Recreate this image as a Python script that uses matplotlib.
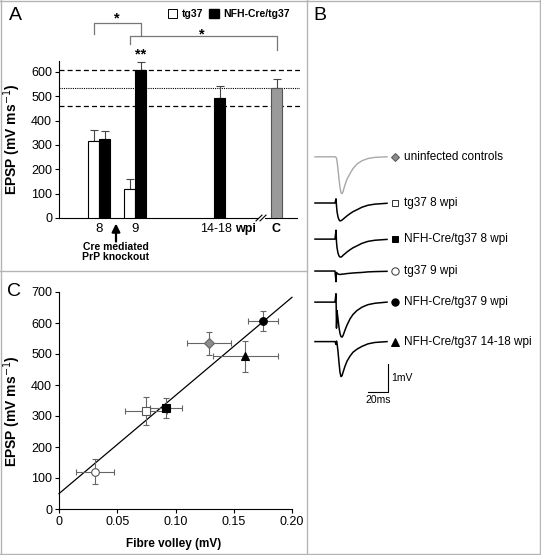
import matplotlib
matplotlib.use("Agg")
import matplotlib.pyplot as plt
import numpy as np
from matplotlib.lines import Line2D
from matplotlib.patches import Patch

plt.rcParams["font.family"] = ["Liberation Sans", "DejaVu Sans"]

# ---- data ----
# panel A: EPSP slope (mV ms-1), mean and upper SEM
tg37_mean = [315, 120]          # 8 wpi, 9 wpi
tg37_err = [45, 40]
nfh_mean = [325, 608, 493]      # 8 wpi, 9 wpi, 14-18 wpi
nfh_err = [33, 32, 50]
ctrl_mean = 534
ctrl_err = 37
ctrl_band = 74                  # dashed lines: control mean +/- band

# panel C: fibre volley vs EPSP
fv_names = ["tg37 9", "tg37 8", "NFH 8", "control", "NFH 14-18", "NFH 9"]
fv_x = [0.031, 0.075, 0.092, 0.129, 0.160, 0.175]
fv_xerr = [0.016, 0.018, 0.0135, 0.019, 0.028, 0.013]
fv_y = [120, 315, 325, 534, 493, 607]
fv_yerr = [40, 45, 33, 38, 50, 33]

# panel B: example field potential traces (ms, mV relative to baseline)
trace_t = [0, 20, 21, 21.5, 22, 23, 24, 25, 26, 27, 28, 30, 32, 35, 38, 42, 47, 53, 60, 72]
trace_ctrl = [0, 0, -0.02, -0.05, -0.15, -0.45, -0.8, -1.1, -1.28, -1.32, -1.25, -1.0, -0.8,
              -0.6, -0.42, -0.26, -0.14, -0.06, -0.02, 0]
trace_tg37_8 = [0, 0, 0.15, -0.1, -0.3, -0.5, -0.6, -0.64, -0.63, -0.61, -0.58, -0.52, -0.46,
                -0.38, -0.31, -0.24, -0.15, -0.08, -0.04, -0.01]
trace_nfh_8 = [0, 0, 0.32, -0.1, -0.3, -0.5, -0.6, -0.64, -0.64, -0.62, -0.58, -0.52, -0.46,
               -0.38, -0.31, -0.24, -0.15, -0.08, -0.04, -0.01]
trace_tg37_9 = [0, 0, -0.38, -0.05, -0.08, -0.1, -0.12, -0.12, -0.12, -0.11, -0.11, -0.1, -0.09,
                -0.08, -0.07, -0.06, -0.05, -0.03, -0.02, -0.01]
trace_nfh_9 = [0, 0, 0.3, -0.93, -0.3, -0.6, -0.9, -1.12, -1.23, -1.25, -1.2, -1.0, -0.82,
               -0.6, -0.44, -0.3, -0.18, -0.09, -0.04, 0]
trace_nfh_14 = [0, 0, -0.1, 0.02, -0.05, -0.35, -0.75, -1.1, -1.25, -1.22, -1.1, -0.88, -0.7,
                -0.52, -0.38, -0.27, -0.17, -0.08, -0.03, 0]
trace_labels = ["uninfected controls", "tg37 8 wpi", "NFH-Cre/tg37 8 wpi", "tg37 9 wpi",
                "NFH-Cre/tg37 9 wpi", "NFH-Cre/tg37 14-18 wpi"]
scale_ms = 20
scale_mv = 1

# ---- layout ----
W, H = 541, 555
fig = plt.figure(figsize=(W / 100, H / 100), dpi=100)


def box(l, t, r, b):
    return [l / W, 1 - b / H, (r - l) / W, (b - t) / H]


gray_line = "#b4b4b4"
for xs, ys in [((0, W), (1, 1)), ((1, 1), (0, H)), ((0, W), (554, 554)), ((540, 540), (0, H)),
               ((0, 307), (271, 271)), ((307, 307), (0, H))]:
    fig.add_artist(Line2D([x / W for x in xs], [1 - y / H for y in ys], color=gray_line, lw=1))

fig.text(9 / W, 1 - 16 / H, "A", fontsize=14, va="center")
fig.text(313 / W, 1 - 16 / H, "B", fontsize=14, va="center")
fig.text(7 / W, 1 - 292 / H, "C", fontsize=14, va="center")

tick_fs = 9

# ---- panel A ----
ax = fig.add_axes(box(59, 61, 300, 218))
bw = 10.5
x_tg37 = [34.5, 70.5]
x_nfh = [45.5, 81.5, 160.5]
x_ctrl = 217.5
ax.bar(x_tg37, tg37_mean, bw, color="white", edgecolor="black", lw=0.8, zorder=3)
ax.bar(x_nfh, nfh_mean, bw, color="black", edgecolor="black", lw=0.8, zorder=3)
ax.bar([x_ctrl], [ctrl_mean], bw, color="#9a9a9a", edgecolor="#555555", lw=0.8, zorder=3)
ekw = dict(fmt="none", ecolor="#444444", elinewidth=0.8, capsize=3, capthick=0.8, zorder=2)
ax.errorbar(x_tg37, tg37_mean, yerr=[np.zeros(2), tg37_err], **ekw)
ax.errorbar(x_nfh, nfh_mean, yerr=[np.zeros(3), nfh_err], **ekw)
ax.errorbar([x_ctrl], [ctrl_mean], yerr=[[0], [ctrl_err]], **ekw)
ax.axhline(ctrl_mean + ctrl_band, color="black", lw=0.9, ls=(0, (4, 2.5)), zorder=1)
ax.axhline(ctrl_mean - ctrl_band, color="black", lw=0.9, ls=(0, (4, 2.5)), zorder=1)
ax.axhline(ctrl_mean, color="black", lw=0.8, ls=(0, (1, 1)), zorder=1)
ax.set_xlim(0, 241)
ax.set_ylim(0, 645)
ax.set_yticks(range(0, 601, 100))
ax.tick_params(axis="y", labelsize=tick_fs, length=3, width=0.8, pad=2)
ax.set_xticks([])
for s in ["top", "right"]:
    ax.spines[s].set_visible(False)
ax.spines["left"].set_linewidth(0.8)
ax.spines["bottom"].set_linewidth(0.8)
ax.spines["bottom"].set_bounds(0, 198)
ax.plot([206, 238], [0, 0], color="black", lw=0.8, clip_on=False)
for dx in (0, 4):
    ax.plot([197 + dx, 203 + dx], [-12, 12], color="black", lw=0.8, clip_on=False)
ax.set_ylabel("EPSP (mV ms$^{-1}$)", fontsize=10, fontweight="bold")
ax.yaxis.set_label_coords(-0.15, 0.5)

xt = ax.get_xaxis_transform()
ax.text(40, -0.07, "8", transform=xt, ha="center", va="center", fontsize=9.5)
ax.text(76, -0.07, "9", transform=xt, ha="center", va="center", fontsize=9.5)
ax.text(173, -0.07, "14-18", transform=xt, ha="right", va="center", fontsize=9)
ax.text(176, -0.07, "wpi", transform=xt, ha="left", va="center", fontsize=9, fontweight="bold")
ax.text(x_ctrl, -0.07, "C", transform=xt, ha="center", va="center", fontsize=9, fontweight="bold")
ax.annotate("", xy=(57, -0.035), xytext=(57, -0.15), xycoords=xt, textcoords=xt,
            arrowprops=dict(arrowstyle="-|>", color="black", lw=1.6, mutation_scale=12,
                            shrinkA=0, shrinkB=0))
ax.text(57, -0.215, "Cre mediated\nPrP knockout", transform=xt, ha="center", va="center",
        fontsize=7.5, fontweight="bold", linespacing=1.05)

# significance brackets
bk = dict(color="#777777", lw=0.9, clip_on=False)
ax.plot([x_tg37[0], x_tg37[0], x_nfh[1], x_nfh[1]], [756, 801, 801, 748], **bk)
ax.plot([x_tg37[1], x_tg37[1], x_ctrl, x_ctrl], [715, 748, 748, 690], **bk)
ax.text((x_tg37[0] + x_nfh[1]) / 2, 818, "*", ha="center", va="center", fontsize=10.5, fontweight="bold")
ax.text(143, 756, "*", ha="center", va="center", fontsize=10.5, fontweight="bold")
ax.text(x_nfh[1], 670, "**", ha="center", va="center", fontsize=10.5, fontweight="bold")

leg = ax.legend([Patch(facecolor="white", edgecolor="black", lw=0.7),
                 Patch(facecolor="black", edgecolor="black")],
                ["tg37", "NFH-Cre/tg37"], ncol=2, frameon=False,
                loc="center left", bbox_to_anchor=(168 / W, 1 - 14 / H),
                bbox_transform=fig.transFigure, handlelength=0.9, handleheight=0.9,
                handletextpad=0.4, columnspacing=0.6, borderpad=0, borderaxespad=0,
                prop=dict(size=7.5, weight="bold"))

# ---- panel B ----
axb = fig.add_axes(box(307, 0, 541, 555))
axb.set_xlim(-8, 226)
axb.set_ylim(-555 / 28, 0)
axb.axis("off")
traces = [trace_ctrl, trace_tg37_8, trace_nfh_8, trace_tg37_9, trace_nfh_9, trace_nfh_14]
offsets = [-5.6, -7.25, -8.54, -9.68, -10.79, -12.2]
markers = [("D", "#8c8c8c", "#555555", 4.5), ("s", "white", "#333333", 4.8),
           ("s", "black", "black", 4.8), ("o", "white", "#333333", 5.3),
           ("o", "black", "black", 5.3), ("^", "black", "black", 5.3)]
for i, (tr, off, lab, mk) in enumerate(zip(traces, offsets, trace_labels, markers)):
    col = "#a8a8a8" if i == 0 else "black"
    axb.plot(trace_t, np.array(tr) + off, color=col, lw=1.1 if i else 1.0)
    axb.plot([80], [off], marker=mk[0], color=mk[1], markeredgecolor=mk[2], markersize=mk[3],
             markeredgewidth=0.7, ls="none")
    axb.text(89, off, lab, fontsize=8.5, va="center", ha="left")
sb_x, sb_y = 73, -14.0
axb.plot([sb_x - scale_ms, sb_x, sb_x], [sb_y, sb_y, sb_y + scale_mv], color="black", lw=0.8)
axb.text(sb_x + 3, sb_y + scale_mv / 2, "1mV", fontsize=7.5, va="center", ha="left")
axb.text(sb_x - scale_ms / 2, sb_y - 0.3, "20ms", fontsize=7.5, va="center", ha="center")

# ---- panel C ----
axc = fig.add_axes(box(59, 292, 292, 509))
fit = np.polyfit(fv_x, fv_y, 1)
xx = np.array([0, 0.2])
axc.plot(xx, np.polyval(fit, xx), color="black", lw=0.9, zorder=1, clip_on=False)
c_markers = [("o", "white", "#555555"), ("s", "white", "#555555"), ("s", "black", "black"),
             ("D", "#8c8c8c", "#666666"), ("^", "black", "black"), ("o", "black", "black")]
for x, y, xe, ye, mk in zip(fv_x, fv_y, fv_xerr, fv_yerr, c_markers):
    axc.errorbar(x, y, xerr=xe, yerr=ye, fmt="none", ecolor="#666666", elinewidth=0.8,
                 capsize=2.5, capthick=0.8, zorder=2)
    axc.plot(x, y, marker=mk[0], color=mk[1], markeredgecolor=mk[2], markersize=5.5,
             markeredgewidth=0.8, ls="none", zorder=3)
axc.set_xlim(0, 0.2)
axc.set_ylim(0, 700)
axc.set_xticks([0, 0.05, 0.10, 0.15, 0.20])
axc.set_xticklabels(["0", "0.05", "0.10", "0.15", "0.20"])
axc.set_yticks(range(0, 701, 100))
axc.tick_params(labelsize=tick_fs, length=3, width=0.8, pad=2)
for s in ["top", "right"]:
    axc.spines[s].set_visible(False)
for s in ["left", "bottom"]:
    axc.spines[s].set_linewidth(0.8)
axc.set_ylabel("EPSP (mV ms$^{-1}$)", fontsize=10, fontweight="bold")
axc.yaxis.set_label_coords(-0.155, 0.45)
axc.set_xlabel("Fibre volley (mV)", fontsize=8.5, fontweight="bold")
axc.xaxis.set_label_coords(0.49, -0.135)

fig.savefig("out.png", dpi=100)
